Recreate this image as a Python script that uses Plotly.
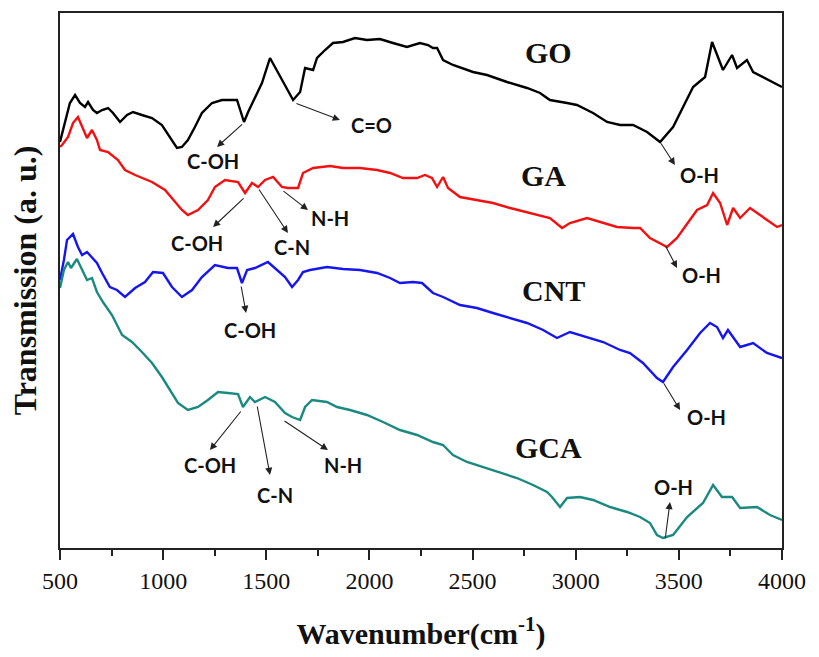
import plotly.graph_objects as go

# ---- data (wavenumber, transmission a.u.) ----
go_x = [500, 524, 548, 573, 597, 621, 636, 660, 679, 704, 733, 757, 791, 825, 854, 897, 946, 994, 1033, 1067, 1091, 1120, 1154, 1188, 1237, 1285, 1358, 1373, 1392, 1412, 1445, 1479, 1518, 1567, 1630, 1664, 1688, 1727, 1746, 1785, 1823, 1872, 1930, 1988, 2051, 2114, 2182, 2245, 2284, 2308, 2328, 2357, 2405, 2502, 2570, 2667, 2764, 2827, 2875, 2958, 3006, 3084, 3152, 3215, 3278, 3346, 3409, 3472, 3569, 3627, 3661, 3714, 3758, 3782, 3830, 3860, 4000]
go_y = [406, 425, 445, 453, 445, 441, 446, 438, 435, 438, 440, 435, 426, 433, 436, 433, 430, 423, 410, 400, 401, 408, 421, 435, 445, 448, 448, 438, 426, 436, 450, 465, 490, 471, 448, 456, 480, 478, 490, 498, 505, 506, 510, 508, 509, 505, 501, 505, 503, 500, 500, 488, 483, 476, 473, 466, 460, 455, 448, 445, 443, 435, 426, 423, 423, 416, 406, 421, 461, 471, 506, 478, 493, 480, 488, 476, 461]

ga_x = [500, 510, 539, 563, 587, 607, 631, 655, 679, 694, 733, 781, 815, 864, 946, 1009, 1057, 1091, 1120, 1169, 1217, 1251, 1300, 1363, 1397, 1431, 1460, 1494, 1533, 1576, 1605, 1654, 1678, 1727, 1809, 1872, 1954, 2037, 2100, 2163, 2231, 2269, 2303, 2328, 2357, 2381, 2439, 2521, 2599, 2682, 2764, 2827, 2875, 2934, 2972, 3055, 3118, 3200, 3278, 3312, 3360, 3423, 3443, 3491, 3588, 3637, 3666, 3700, 3734, 3763, 3797, 3845, 3927, 3976, 4000]
ga_y = [401, 403, 411, 425, 431, 421, 410, 418, 408, 398, 396, 388, 378, 373, 366, 358, 346, 338, 333, 338, 348, 361, 368, 366, 355, 365, 361, 368, 371, 361, 360, 360, 375, 380, 382, 380, 380, 378, 375, 370, 370, 373, 370, 361, 371, 360, 351, 348, 345, 340, 336, 333, 330, 320, 325, 330, 326, 321, 320, 320, 310, 303, 301, 310, 338, 343, 355, 345, 323, 340, 330, 340, 328, 321, 323]

cnt_x = [500, 519, 534, 563, 587, 607, 631, 655, 679, 704, 742, 776, 815, 864, 912, 951, 999, 1043, 1091, 1140, 1188, 1251, 1314, 1358, 1382, 1407, 1445, 1508, 1542, 1591, 1625, 1654, 1678, 1712, 1794, 1872, 1954, 2037, 2100, 2148, 2211, 2255, 2308, 2357, 2439, 2521, 2599, 2682, 2764, 2842, 2909, 2972, 3055, 3133, 3215, 3263, 3326, 3394, 3423, 3472, 3540, 3603, 3651, 3685, 3714, 3738, 3797, 3860, 3927, 4000]
cnt_y = [268, 288, 308, 314, 301, 293, 296, 290, 285, 275, 261, 258, 251, 260, 266, 276, 275, 261, 251, 258, 271, 283, 280, 280, 265, 278, 280, 286, 280, 271, 261, 268, 276, 278, 281, 279, 278, 275, 270, 265, 266, 265, 255, 251, 243, 240, 235, 230, 225, 218, 210, 216, 211, 206, 198, 195, 185, 170, 166, 181, 198, 215, 225, 221, 210, 218, 201, 205, 195, 190]

gca_x = [500, 519, 539, 553, 582, 607, 631, 655, 679, 708, 752, 801, 849, 897, 946, 994, 1033, 1072, 1120, 1169, 1217, 1266, 1314, 1363, 1387, 1421, 1445, 1494, 1542, 1591, 1625, 1664, 1688, 1722, 1794, 1843, 1906, 1988, 2066, 2148, 2231, 2308, 2357, 2405, 2473, 2551, 2633, 2715, 2793, 2861, 2885, 2924, 2958, 3021, 3084, 3167, 3249, 3312, 3360, 3394, 3423, 3472, 3540, 3617, 3666, 3709, 3758, 3797, 3879, 3942, 4000]
gca_y = [260, 278, 286, 280, 289, 278, 268, 270, 256, 246, 233, 213, 206, 196, 185, 171, 158, 145, 138, 141, 148, 156, 155, 154, 141, 151, 146, 151, 146, 135, 131, 128, 141, 148, 146, 141, 138, 133, 126, 118, 113, 106, 103, 93, 86, 81, 75, 70, 63, 56, 51, 41, 50, 51, 48, 41, 36, 31, 25, 13, 10, 13, 31, 45, 63, 51, 51, 40, 41, 33, 28]

series_names = ["GO", "GA", "CNT", "GCA"]
series_colors = ["#000000", "#f21010", "#1515f0", "#1a8a80"]
name_pos = [(2866, 496), (2842, 373), (2890, 258), (2866, 101)]

x_ticks = [500, 1000, 1500, 2000, 2500, 3000, 3500, 4000]
x_minor = [750, 1250, 1750, 2250, 2750, 3250, 3750]

# arrow annotations: (text, tail_x, tail_y, head_x, head_y, text_x, text_y)
arrows = [
    ("C-OH", 1390, 425, 1261, 401, 1242, 387),
    ("C=O", 1639, 445, 1857, 428, 2012, 423),
    ("O-H", 3409, 406, 3481, 383, 3602, 373),
    ("C-OH", 1397, 351, 1242, 321, 1164, 305),
    ("C-N", 1460, 360, 1605, 315, 1625, 301),
    ("N-H", 1576, 358, 1702, 338, 1809, 330),
    ("O-H", 3433, 303, 3491, 280, 3612, 273),
    ("C-OH", 1377, 263, 1402, 235, 1421, 218),
    ("O-H", 3423, 166, 3506, 138, 3636, 131),
    ("C-OH", 1382, 138, 1227, 98, 1227, 83),
    ("C-N", 1455, 143, 1518, 73, 1542, 53),
    ("N-H", 1581, 128, 1799, 98, 1872, 83),
    ("O-H", 3433, 8, 3457, 46, 3472, 61),
]

fig = go.Figure()
for xs, ys, nm, col in zip([go_x, ga_x, cnt_x, gca_x], [go_y, ga_y, cnt_y, gca_y], series_names, series_colors):
    fig.add_trace(go.Scatter(x=xs, y=ys, mode="lines", name=nm,
                             line=dict(color=col, width=2.4)))

annotations = []
for nm, (px, py) in zip(series_names, name_pos):
    annotations.append(dict(x=px, y=py, xref="x", yref="y", text="<b>%s</b>" % nm,
                            showarrow=False,
                            font=dict(family="Liberation Serif", size=30, color="#111111")))
for txt, tx, ty, hx, hy, lx, ly in arrows:
    annotations.append(dict(x=hx, y=hy, ax=tx, ay=ty, xref="x", yref="y", axref="x", ayref="y",
                            text="", showarrow=True, arrowhead=2, arrowsize=1.3,
                            arrowwidth=1.1, arrowcolor="#222222"))
    annotations.append(dict(x=lx, y=ly, xref="x", yref="y", text="<b>%s</b>" % txt,
                            showarrow=False,
                            font=dict(family="Lato", size=20, color="#111111")))

fig.update_layout(
    width=819, height=657,
    margin=dict(l=60, r=37, t=13, b=109),
    paper_bgcolor="white", plot_bgcolor="white",
    showlegend=False,
    annotations=annotations,
    xaxis=dict(range=[500, 4000], tickvals=x_ticks,
               automargin=False, ticklabelstandoff=0,
               ticks="outside", ticklen=10, tickwidth=2, tickcolor="#222222",
               minor=dict(tickvals=x_minor, ticks="outside",
                          ticklen=6, tickwidth=2, tickcolor="#222222"),
               showline=True, linewidth=2, linecolor="#222222", mirror=True,
               showgrid=False, zeroline=False,
               tickfont=dict(family="Liberation Serif", size=24, color="#111111"),
               title=dict(text="<b>Wavenumber(cm<sup>-1</sup>)</b>", standoff=30,
                          font=dict(family="Liberation Serif", size=30, color="#111111"))),
    yaxis=dict(range=[0, 535], showticklabels=False, ticks="", automargin=False,
               showline=True, linewidth=2, linecolor="#222222", mirror=True,
               showgrid=False, zeroline=False,
               title=dict(text="<b>Transmission (a. u.)</b>", standoff=12,
                          font=dict(family="Liberation Serif", size=32, color="#111111"))),
)

fig.write_html("out.html", config={"displayModeBar": False},
               post_script="document.body.style.margin='0';")
